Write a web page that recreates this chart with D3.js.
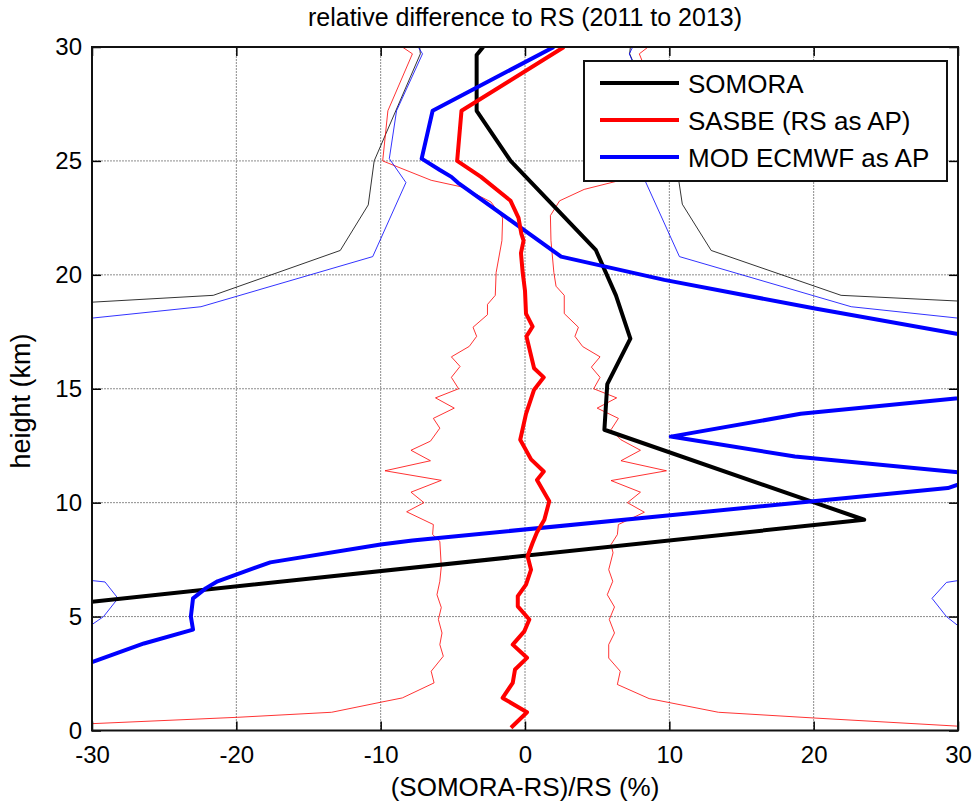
<!DOCTYPE html>
<html>
<head>
<meta charset="utf-8">
<script src="https://cdn.jsdelivr.net/npm/d3@7"></script>
<style>
  body { margin: 0; background: #fff; }
  text { font-family: "Liberation Sans", Arial, sans-serif; fill: #000; }
</style>
</head>
<body>
<div id="profile_chart"></div>
<script>
// [relative difference (%), height (km)], top to bottom
const somora = [[-2.9,30],[-3.35,29.65],[-3.35,27.2],[-1.0,25.0],[4.9,21.1],[6.3,19.1],[7.3,17.2],
    [5.7,15.2],[5.5,13.2],[23.5,9.25],[-30,5.65]];
const sasbe = [[2.7,30],[-4.4,27.2],[-4.7,25],[-3.05,24.3],[-1.0,23.25],[-0.45,22.5],[-0.25,21.8],
    [-0.1,21.5],[-0.28,20.95],[-0.16,20.1],[0.0,19.3],[0.07,18.3],[0.53,17.73],[0.1,17.3],[0.63,15.9],
    [1.3,15.5],[0.63,14.96],[0.07,13.9],[-0.33,12.76],[0.42,11.9],[1.3,11.37],[0.83,11.0],[1.68,10.06],
    [1.34,9.25],[0.83,8.7],[0.53,8.24],[0.18,7.65],[0.42,7.06],[0.07,6.4],[-0.5,5.9],[-0.5,5.45],
    [0.3,4.87],[-0.05,4.35],[-0.85,3.77],[0.14,3.19],[-0.69,2.68],[-0.85,2.09],[-1.55,1.43],
    [0.14,0.8],[-0.97,0.12]];
const modEcmwf = [[2.0,30],[-6.4,27.2],[-7.16,25.1],[-5.9,24.6],[-5.1,24.3],[-4.66,24.05],[2.5,20.8],
    [9.65,19.78],[20.0,18.53],[30,17.4],[33,16.0],[30,14.58],[19.1,13.9],[10.1,12.9],[18.7,12.03],
    [30,11.33],[31,11.0],[29.3,10.64],[-7.8,8.34],[-10,8.16],[-17.65,7.38],[-21.3,6.55],[-22.1,6.25],
    [-23.0,5.8],[-23.15,5.0],[-23.0,4.43],[-26.4,3.82],[-30,3.0]];

// thin envelope lines (null = leaves the axes)
const somoraLow = [[-7.3,30],[-7.25,29.7],[-10.45,25],[-10.86,23.07],[-12.8,21.07],[-21.6,19.1],[-30,18.8]];
const somoraHigh = [[7.3,30],[7.25,29.7],[10.45,25],[10.9,23.1],[12.9,21.07],[21.9,19.1],[30,18.85]];
const sasbeLow = [[-8.5,30],[-7.8,29.7],[-9.5,27.2],[-9.86,25],[-6.5,24.15],[-4.4,23.86],[-2.36,23.2],
    [-1.55,22.5],[-1.6,21.5],[-2.0,20.1],[-2.06,19.1],[-2.6,18.7],[-2.6,18.25],[-3.6,17.7],[-3.35,17.3],
    [-3.86,16.86],[-5.1,16.4],[-4.5,15.98],[-5.1,15.5],[-4.6,15.0],[-6.2,14.6],[-4.9,14.15],[-6.35,13.7],
    [-5.9,13.27],[-6.55,12.7],[-7.9,12.3],[-6.55,11.84],[-9.7,11.4],[-5.8,10.98],[-7.9,10.46],[-7.0,10.0],
    [-8.2,9.6],[-6.35,9.04],[-6.4,8.6],[-5.9,8.3],[-5.8,7.2],[-5.9,6.55],[-6.1,5.96],[-5.8,5.4],
    [-6.0,4.87],[-5.75,4.28],[-5.9,3.77],[-5.66,3.26],[-6.5,2.6],[-6.3,2.09],[-8.5,1.43],[-10,1.24],
    [-13.4,0.8],[-19.9,0.58],[-30,0.3]];
const sasbeHigh = [[8.53,30],[7.92,29.7],[9.5,27.2],[9.9,25],[6.3,24.1],[4.1,23.75],[2.4,23.25],
    [1.76,22.6],[1.8,21.5],[2.0,20.1],[2.15,19.5],[2.72,19.1],[2.72,18.3],[3.7,17.7],[3.46,17.3],
    [4.0,16.85],[5.2,16.4],[4.6,15.95],[5.2,15.5],[4.76,15.0],[6.35,14.6],[5.0,14.15],[6.47,13.7],
    [5.96,13.2],[6.65,12.76],[8.0,12.3],[6.65,11.84],[9.8,11.4],[5.96,10.97],[8.0,10.46],[7.1,10.0],
    [8.27,9.58],[6.47,9.04],[6.4,8.6],[5.96,8.16],[6.1,7.8],[5.8,7.06],[6.08,6.55],[5.7,5.96],
    [6.2,5.42],[5.84,4.87],[6.2,4.28],[5.8,3.77],[5.8,3.18],[6.6,2.6],[6.4,2.02],[8.6,1.4],
    [13.4,0.8],[20.0,0.55],[30,0.19]];
const modLow = [[-7.4,30],[-7.1,29.7],[-8.9,27.2],[-9.4,25.1],[-8.25,24.05],[-10.55,20.8],[-22.45,18.6],
    [-30,18.1],null,[-30,6.58],[-29.1,6.52],[-28.2,5.8],[-29.2,5.0],[-30,4.65]];
const modHigh = [[7.46,30],[7.23,29.7],[8.9,27.2],[9.4,25.1],[8.27,24.2],[10.7,20.8],[22.6,18.6],
    [30,18.1],null,[30,6.58],[29.2,6.5],[28.2,5.8],[29.2,5.0],[30,4.6]];

const xTicks = [-30, -20, -10, 0, 10, 20, 30];
const yTicks = [0, 5, 10, 15, 20, 25, 30];
const legendNames = ["SOMORA", "SASBE (RS as AP)", "MOD ECMWF as AP"];
const colors = ["#000000", "#ff0000", "#0000ff"];

function renderProfileChart(){
    const margin = { top: 47, right: 19, bottom: 74.5, left: 92 };
    const fullWidth = 977, fullHeight = 805;
    const width = fullWidth - margin.left - margin.right;
    const height = fullHeight - margin.top - margin.bottom;

    const svg_base = d3.select("#profile_chart")
        .append("svg")
        .attr("width", fullWidth)
        .attr("height", fullHeight);

    svg_base.append("rect")
        .attr("width", fullWidth)
        .attr("height", fullHeight)
        .attr("fill", "#ffffff");

    const g = svg_base.append("g")
        .attr("transform", `translate(${margin.left}, ${margin.top})`);

    const x = d3.scaleLinear().domain([-30, 30]).range([0, width]);
    const y = d3.scaleLinear().domain([0, 30]).range([height, 0]);

    g.append("clipPath").attr("id", "plot_clip")
        .append("rect").attr("width", width).attr("height", height);

    // dotted grid
    const grid = g.append("g").attr("stroke", "#8c8c8c").attr("stroke-width", 1)
        .attr("stroke-dasharray", "2,1");
    grid.selectAll(".gx").data(xTicks.slice(1, -1)).enter().append("line")
        .attr("x1", d => x(d)).attr("x2", d => x(d))
        .attr("y1", 0).attr("y2", height);
    grid.selectAll(".gy").data(yTicks.slice(1, -1)).enter().append("line")
        .attr("x1", 0).attr("x2", width)
        .attr("y1", d => y(d)).attr("y2", d => y(d));

    const line = d3.line()
        .defined(d => d !== null)
        .x(d => x(d[0]))
        .y(d => y(d[1]));

    const plot = g.append("g").attr("clip-path", "url(#plot_clip)");

    const thin = [[somoraLow, 0], [somoraHigh, 0], [sasbeLow, 1], [sasbeHigh, 1], [modLow, 2], [modHigh, 2]];
    thin.forEach(([data, i]) => {
        plot.append("path")
            .datum(data)
            .attr("d", line)
            .attr("fill", "none")
            .attr("stroke", colors[i])
            .attr("stroke-opacity", 0.8)
            .attr("stroke-width", 1);
    });

    [[somora, 0], [modEcmwf, 2], [sasbe, 1]].forEach(([data, i]) => {
        plot.append("path")
            .datum(data)
            .attr("d", line)
            .attr("fill", "none")
            .attr("stroke", colors[i])
            .attr("stroke-width", 4)
            .attr("stroke-linejoin", "round");
    });

    // axes, ticks pointing inwards like matlab
    const tickLen = 9;
    const fmt = d => String(d);
    const xAxis = g.append("g").attr("transform", `translate(0, ${height})`)
        .call(d3.axisBottom(x).tickValues(xTicks).tickFormat(fmt).tickSizeInner(-tickLen).tickSizeOuter(0).tickPadding(15));
    const xTop = g.append("g")
        .call(d3.axisTop(x).tickValues(xTicks).tickSizeInner(-tickLen).tickSizeOuter(0).tickFormat(""));
    const yAxis = g.append("g")
        .call(d3.axisLeft(y).tickValues(yTicks).tickFormat(fmt).tickSizeInner(-tickLen).tickSizeOuter(0).tickPadding(10));
    const yRight = g.append("g").attr("transform", `translate(${width}, 0)`)
        .call(d3.axisRight(y).tickValues(yTicks).tickSizeInner(-tickLen).tickSizeOuter(0).tickFormat(""));

    [xAxis, xTop, yAxis, yRight].forEach(a => {
        a.select(".domain").remove();
        a.selectAll(".tick line").attr("stroke", "#000").attr("stroke-width", 1.5);
        a.selectAll(".tick text")
            .attr("font-family", "'Liberation Sans', Arial, sans-serif")
            .attr("font-size", 24).attr("fill", "#000");
    });

    g.append("rect")
        .attr("width", width).attr("height", height)
        .attr("fill", "none").attr("stroke", "#111").attr("stroke-width", 2);

    // legend
    const legend = g.append("g").attr("transform", `translate(${584 - margin.left}, ${61 - margin.top})`);
    legend.append("rect")
        .attr("width", 363).attr("height", 120)
        .attr("fill", "#fff").attr("stroke", "#111").attr("stroke-width", 2);
    legendNames.forEach((name, i) => {
        const ly = 22 + i * 37;
        legend.append("line")
            .attr("x1", 16).attr("x2", 95).attr("y1", ly).attr("y2", ly)
            .attr("stroke", colors[i]).attr("stroke-width", 4);
        legend.append("text")
            .attr("x", 104).attr("y", ly + 10)
            .attr("font-size", 26)
            .text(name);
    });

    // labels
    svg_base.append("text")
        .attr("x", margin.left + width / 2).attr("y", 26)
        .attr("text-anchor", "middle").attr("font-size", 25)
        .text("relative difference to RS (2011 to 2013)");
    svg_base.append("text")
        .attr("x", margin.left + width / 2).attr("y", 796)
        .attr("text-anchor", "middle").attr("font-size", 26)
        .text("(SOMORA-RS)/RS (%)");
    svg_base.append("text")
        .attr("transform", `translate(30, 401) rotate(-90)`)
        .attr("text-anchor", "middle").attr("font-size", 27)
        .text("height (km)");
}
renderProfileChart();
</script>
</body>
</html>
